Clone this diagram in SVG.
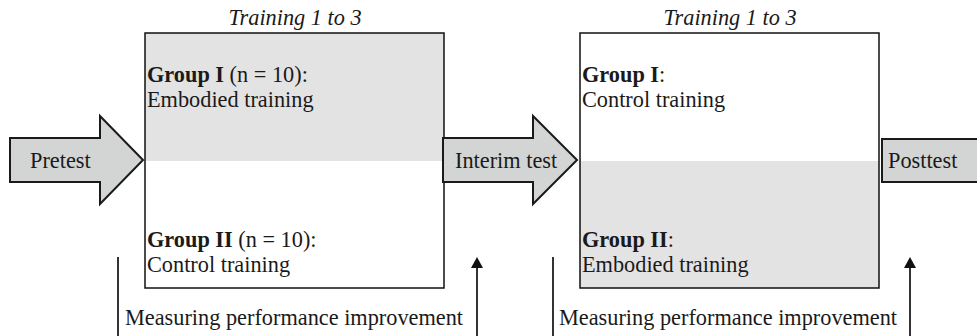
<svg xmlns="http://www.w3.org/2000/svg" width="977" height="336" viewBox="0 0 977 336">
<style>
text{font-family:"Liberation Serif","Times New Roman",serif;font-size:22.3px;fill:#1a1a1a}
.it{font-style:italic}
.b{font-weight:bold}
.box{stroke:#111;stroke-width:1.5;fill:none}
.gray{fill:#e3e3e3}
.arr{fill:#d3d5d4;stroke:#1a1a1a;stroke-width:2;stroke-linejoin:miter}
.ln{stroke:#333;stroke-width:2;fill:none}
</style>
<defs>
<marker id="ah" viewBox="0 0 11 12" refX="2" refY="6" markerWidth="11" markerHeight="12" markerUnits="userSpaceOnUse" orient="auto">
<path d="M0,0 L11,6 L0,12 Z" fill="#111"/>
</marker>
</defs>
<rect width="977" height="336" fill="#fff"/>
<g id="connectors">
<line class="ln" x1="118" y1="257" x2="118" y2="336"/>
<line class="ln" x1="477" y1="336" x2="477" y2="266" marker-end="url(#ah)"/>
<line class="ln" x1="553" y1="257" x2="553" y2="336"/>
<line class="ln" x1="910" y1="336" x2="910" y2="266" marker-end="url(#ah)"/>
<text x="125" y="325">Measuring performance improvement</text>
<text x="559" y="325">Measuring performance improvement</text>
</g>
<g id="training1">
<text class="it" x="295" y="25" text-anchor="middle">Training 1 to 3</text>
<rect class="gray" x="145" y="33" width="299" height="128"/>
<rect class="box" x="145" y="33" width="299" height="255"/>
<text x="147" y="82"><tspan class="b">Group I</tspan> (n = 10):</text>
<text x="147" y="107">Embodied training</text>
<text x="147" y="247"><tspan class="b">Group II</tspan> (n = 10):</text>
<text x="147" y="272">Control training</text>
</g>
<g id="training2">
<text class="it" x="730" y="25" text-anchor="middle">Training 1 to 3</text>
<rect class="gray" x="580" y="161" width="299" height="127"/>
<rect class="box" x="580" y="33" width="299" height="255"/>
<text x="582" y="82"><tspan class="b">Group I</tspan>:</text>
<text x="582" y="107">Control training</text>
<text x="582" y="247"><tspan class="b">Group II</tspan>:</text>
<text x="582" y="272">Embodied training</text>
</g>
<g id="pretest">
<path class="arr" d="M10,138 L100,138 L100,116 L143,160 L100,204 L100,182 L10,182 Z"/>
<text x="30" y="168">Pretest</text>
</g>
<g id="interim">
<path class="arr" d="M443,138 L533,138 L533,116 L577,160 L533,204 L533,182 L443,182 Z"/>
<text x="455" y="168">Interim test</text>
</g>
<g id="posttest">
<rect class="arr" x="882" y="139" width="100" height="43"/>
<text x="888" y="168">Posttest</text>
</g>
</svg>
